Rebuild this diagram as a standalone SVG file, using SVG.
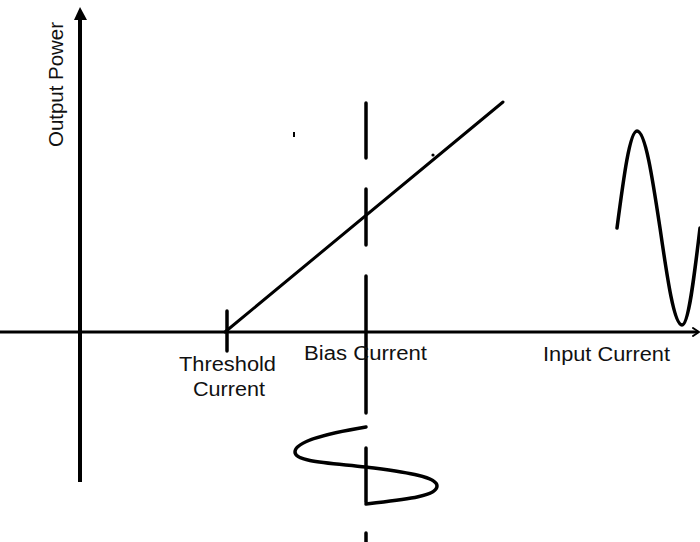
<svg xmlns="http://www.w3.org/2000/svg" width="700" height="542" viewBox="0 0 700 542">
<style>
.ln{fill:none;stroke:#000;stroke-linecap:round;stroke-linejoin:round}
.lbl{font-family:"Liberation Sans",Arial,sans-serif;font-size:20px;fill:#111}
</style>
<rect width="700" height="542" fill="#fff"/>
<g id="axes">
<line class="ln" x1="80" y1="18" x2="80" y2="482" stroke-width="4" style="stroke-linecap:butt"/>
<polygon points="80,7 74,20 87,20" fill="#000"/>
<line class="ln" x1="0" y1="332" x2="698" y2="332" stroke-width="3" style="stroke-linecap:butt"/>
<polyline class="ln" points="693,328 699,332 693,336" stroke-width="2"/>
</g>
<g id="threshold">
<line class="ln" x1="227" y1="311" x2="227" y2="351" stroke-width="3.5"/>
</g>
<g id="transfer-line">
<line class="ln" x1="225" y1="332" x2="503" y2="102" stroke-width="3"/>
<circle cx="433" cy="155" r="1.6" fill="#000"/>
<rect x="293" y="132" width="2" height="5" fill="#000"/>
</g>
<g id="bias-line">
<line class="ln" x1="366" y1="103" x2="366" y2="158" stroke-width="3.5"/>
<line class="ln" x1="366" y1="189" x2="366" y2="245" stroke-width="3.5"/>
<line class="ln" x1="366" y1="276" x2="366" y2="413" stroke-width="3.5"/>
<line class="ln" x1="366" y1="448" x2="366" y2="502" stroke-width="3.5"/>
<line class="ln" x1="366" y1="533" x2="366" y2="545" stroke-width="3.5"/>
</g>
<g id="input-sine">
<path class="ln" stroke-width="3.5" d="M366,427 C330,433 295,441 295,452 C295,462 330,463 366,467 C402,472 437,476 437,486 C437,497 400,500 366,504"/>
</g>
<g id="output-sine">
<path class="ln" stroke-width="3.5" d="M617,228 C623.7,177 629.8,131 637,131 C645.3,131 652.3,177 660,228 C667.4,279 674.1,325 682,325 C688.5,325 694,279 700,228"/>
</g>
<g id="labels">
<text class="lbl" transform="translate(63,147) rotate(-90)" textLength="125" lengthAdjust="spacingAndGlyphs">Output Power</text>
<text class="lbl" x="179" y="371" textLength="97" lengthAdjust="spacingAndGlyphs">Threshold</text>
<text class="lbl" x="193" y="396" textLength="72" lengthAdjust="spacingAndGlyphs">Current</text>
<text class="lbl" x="304" y="360" textLength="123" lengthAdjust="spacingAndGlyphs">Bias Current</text>
<text class="lbl" x="543" y="361" textLength="127" lengthAdjust="spacingAndGlyphs">Input Current</text>
</g>
</svg>
